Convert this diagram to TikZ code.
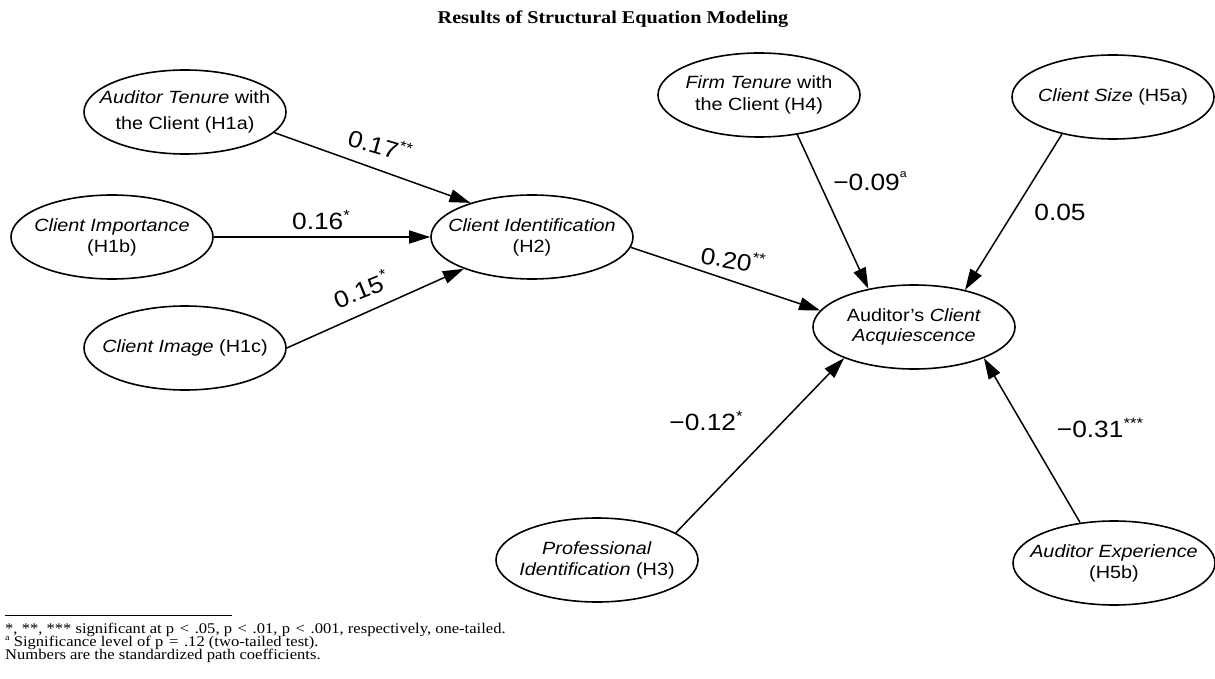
\documentclass[tikz,border=0pt]{standalone}
\usepackage{fontspec}
\setmainfont{Liberation Serif}[FakeStretch=1.12]
\newfontfamily\diagfont{Liberation Sans}[FakeStretch=1.12]
\usetikzlibrary{shapes.geometric,arrows.meta}

\newcommand{\sigmark}[1]{\raisebox{0.42em}{\fontsize{15}{15}\selectfont #1}}
\newcommand{\relsp}[1]{\ \hspace{1.5pt}#1\hspace{1.5pt}\ }

\begin{document}
\begin{tikzpicture}[x=1pt,y=-1pt,
  construct/.style={ellipse, draw, line width=1.6pt, minimum width=202pt,
    minimum height=84pt, inner sep=0pt},
  ctext/.style={font=\diagfont\fontsize{17.7}{21}\selectfont, align=center},
  pathline/.style={line width=1.5pt, -{Triangle[length=21pt,width=13pt]}},
  coef/.style={font=\diagfont\fontsize{23.5}{26}\selectfont, inner sep=0pt},
  note/.style={anchor=base west, inner sep=0pt, font=\fontsize{14.8}{13}\selectfont}
]
\useasboundingbox (0,0) rectangle (1215,679);

% title
\node[font=\bfseries\fontsize{18}{20}\selectfont] (title) at (613,19)
  {Results of Structural Equation Modeling};

% constructs
\node[construct, label={[ctext, font=\diagfont\fontsize{17.7}{26}\selectfont]center:{\textit{Auditor Tenure} with\\the Client (H1a)}}] (h1a) at (185,112) {};
\node[construct, label={[ctext]center:{\textit{Client Importance}\\(H1b)}}] (h1b) at (112,237) {};
\node[construct, label={[ctext]center:{\textit{Client Image} (H1c)}}] (h1c) at (185,348) {};
\node[construct, label={[ctext]center:{\textit{Client Identification}\\(H2)}}] (h2) at (532,237) {};
\node[construct, label={[ctext, font=\diagfont\fontsize{17.7}{22}\selectfont]center:{\textit{Firm Tenure} with\\the Client (H4)}}] (h4) at (759,95) {};
\node[construct, label={[ctext]center:{\textit{Client Size} (H5a)}}] (h5a) at (1113,97) {};
\node[construct, label={[ctext, font=\diagfont\fontsize{17.7}{19.5}\selectfont]center:{Auditor’s \textit{Client}\\\textit{Acquiescence}}}] (acq) at (914,327) {};
\node[construct, label={[ctext]center:{\textit{Professional}\\\textit{Identification} (H3)}}] (h3) at (597,560) {};
\node[construct, label={[ctext]center:{\textit{Auditor Experience}\\(H5b)}}] (h5b) at (1114,563) {};

% paths
\draw[pathline] (h1a.-13) -- (h2.151);
\draw[pathline] (h1b.east) -- (h2.west);
\draw[pathline] (h1c.east) -- (h2.205);
\draw[pathline] (h2.-6) -- (acq.170);
\draw[pathline] (h4.-46) -- (acq.140);
\draw[pathline] (h5a.216) -- (acq.36);
\draw[pathline] (h3.19) -- (acq.204);
\draw[pathline] (h5b.130) -- (acq.-24);

% path coefficients
\node[coef, rotate=-16] (c1a) at (380,145) {0.17\sigmark{**}};
\node[coef] (c1b) at (321,220) {0.16\sigmark{*}};
\node[coef, rotate=22] (c1c) at (361,289) {0.15\sigmark{*}};
\node[coef, rotate=-10] (c2) at (733,259) {0.20\sigmark{**}};
\node[coef] (c4) at (870,181) {−0.09\raisebox{0.55em}{\fontsize{11}{11}\selectfont a}};
\node[coef] (c5a) at (1060,212) {0.05};
\node[coef] (c3) at (706,421) {−0.12\sigmark{*}};
\node[coef] (c5b) at (1100,428) {−0.31\sigmark{***}};

% notes
\draw[line width=0.8pt] (5,615) -- (232,615);
\node[note] (n1) at (5,633)
  {*, **, *** significant at p\relsp{\textless}.05, p\relsp{\textless}.01, p\relsp{\textless}.001, respectively, one-tailed.};
\node[note] (n2) at (5,646)
  {\raisebox{0.35em}{\fontsize{9}{9}\selectfont a} Significance level of p\relsp{=}.12 (two-tailed test).};
\node[note] (n3) at (5,659)
  {Numbers are the standardized path coefficients.};
\end{tikzpicture}
\end{document}
